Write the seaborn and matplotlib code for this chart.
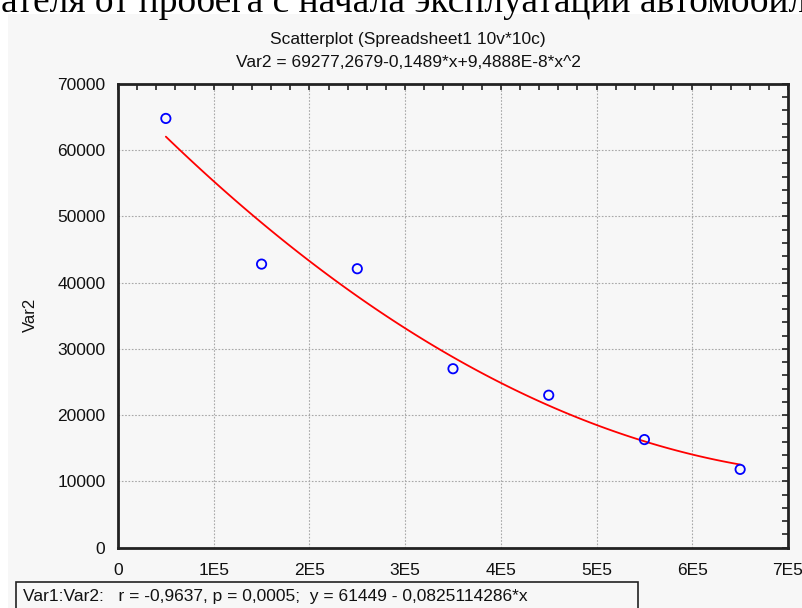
import matplotlib
matplotlib.use("Agg")
import matplotlib.pyplot as plt
import matplotlib.ticker as mticker
from matplotlib.patches import Rectangle
import pandas as pd
import seaborn as sns

# data
var1 = [50000, 150000, 250000, 350000, 450000, 550000, 650000]
var2 = [64800, 42800, 42100, 27000, 23000, 16300, 11800]

x_ticks = [0, 100000, 200000, 300000, 400000, 500000, 600000, 700000]
x_tick_labels = ["0", "1E5", "2E5", "3E5", "4E5", "5E5", "6E5", "7E5"]
y_ticks = [0, 10000, 20000, 30000, 40000, 50000, 60000, 70000]

page_text = "ателя от пробега с начала эксплуатации автомобил"
title_1 = "Scatterplot (Spreadsheet1 10v*10c)"
title_2 = "Var2 = 69277,2679-0,1489*x+9,4888E-8*x^2"
footer = "Var1:Var2:   r = -0,9637, p = 0,0005;  y = 61449 - 0,0825114286*x"

df = pd.DataFrame({"Var1": var1, "Var2": var2})

sns.set_style("white")
plt.rcParams["font.family"] = ["Liberation Sans", "DejaVu Sans"]

W, H = 802, 608
fig = plt.figure(figsize=(W / 100, H / 100), dpi=100)
fig.patch.set_facecolor("white")

# grey panel behind the chart
fig.patches.append(Rectangle((8 / W, 0), 1 - 8 / W, 1 - 14 / H,
                             transform=fig.transFigure, facecolor="#f7f7f7",
                             edgecolor="none", zorder=-5))

ax = fig.add_axes([118 / W, 1 - 547.5 / H, (788 - 118) / W, (547.5 - 84) / H])
ax.set_facecolor("#f7f7f7")

# quadratic fit line
sns.regplot(data=df, x="Var1", y="Var2", order=2, ci=None, scatter=False,
            color="#ff0000", line_kws={"linewidth": 1.3}, ax=ax)
# open circles
sns.scatterplot(data=df, x="Var1", y="Var2", s=45, facecolor="none",
                edgecolor="#0000ff", linewidth=1.3, ax=ax, zorder=3)

ax.set_xlim(0, 700000)
ax.set_ylim(0, 70000)
ax.set_xticks(x_ticks, x_tick_labels)
ax.set_yticks(y_ticks)
ax.xaxis.set_minor_locator(mticker.MultipleLocator(20000))
ax.yaxis.set_minor_locator(mticker.MultipleLocator(2000))

ax.tick_params(which="both", direction="in", top=True, right=True,
               length=4, width=1.2, color="#222222")
ax.tick_params(axis="both", which="major", labelsize=12.5, pad=11,
               labelcolor="#111111")
ax.tick_params(axis="y", which="major", pad=9)

ax.grid(True, which="major", linestyle=(0, (1.5, 1.5)), linewidth=0.8,
        color="#a8a8a8")

for side in ["top", "right", "bottom", "left"]:
    ax.spines[side].set_visible(True)
    ax.spines[side].set_linewidth(2)
    ax.spines[side].set_color("#222222")

ax.set_xlabel("")
ax.set_ylabel("")
fig.text(30 / W, 1 - 315 / H, "Var2", rotation=90, ha="center", va="center",
         fontsize=12, color="#111111")

# titles
fig.text(408 / W, 1 - 44 / H, title_1, ha="center", va="baseline",
         fontsize=12.5, color="#111111")
fig.text(408 / W, 1 - 67 / H, title_2, ha="center", va="baseline",
         fontsize=12.5, color="#111111")

# clipped text of the page above the chart
fig.text(1 / W, 1 - 12 / H, page_text, ha="left", va="baseline",
         fontsize=27, family=["Liberation Serif", "DejaVu Serif"], color="black",
         zorder=-4)

# footer box
fig.patches.append(Rectangle((16 / W, -0.02), (638 - 16) / W, 0.02 + 26 / H,
                             transform=fig.transFigure, facecolor="none",
                             edgecolor="#222222", linewidth=1.2))
fig.text(23 / W, 1 - 596 / H, footer, ha="left", va="center",
         fontsize=12.5, color="#111111")

fig.savefig("out.png", dpi=100)
